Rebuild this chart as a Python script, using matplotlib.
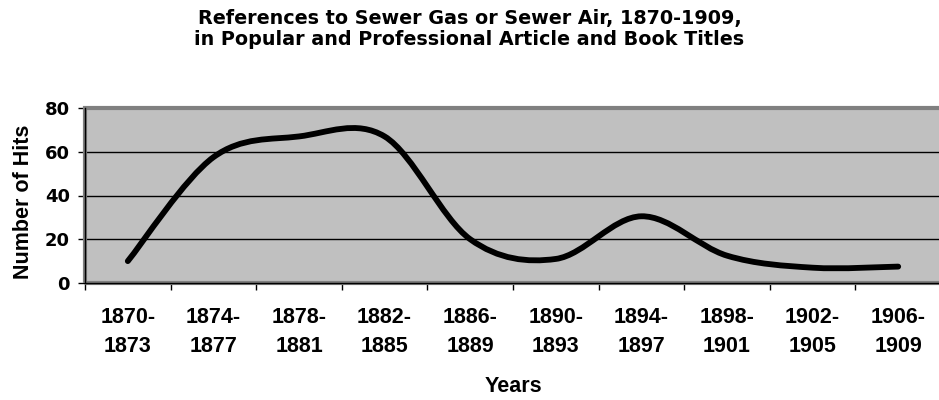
#!/usr/bin/env python
# -*- coding: utf-8 -*-

import numpy as np
import matplotlib
matplotlib.use('Agg')
import matplotlib.pyplot as plt
from matplotlib.path import Path
from matplotlib.patches import PathPatch, Rectangle

# data
periods = ['1870-\n1873', '1874-\n1877', '1878-\n1881', '1882-\n1885', '1886-\n1889',
           '1890-\n1893', '1894-\n1897', '1898-\n1901', '1902-\n1905', '1906-\n1909']
hits = [10, 57.5, 67, 67, 20, 11, 30.5, 12.5, 7, 7.5]
yticks = [0, 20, 40, 60, 80]

title = ('References to Sewer Gas or Sewer Air, 1870-1909,\n'
         'in Popular and Professional Article and Book Titles')


def smooth_path(xs, ys):
    '''Excel-like smoothed line: cubic Bezier through every point.'''
    pts = np.column_stack([xs, ys]).astype(float)
    n = len(pts)
    verts = [pts[0]]
    codes = [Path.MOVETO]
    for i in range(n - 1):
        p_prev = pts[max(i - 1, 0)]
        p0 = pts[i]
        p1 = pts[i + 1]
        p_next = pts[min(i + 2, n - 1)]
        c1 = p0 + (p1 - p_prev) / 6.0
        c2 = p1 - (p_next - p0) / 6.0
        verts += [c1, c2, p1]
        codes += [Path.CURVE4] * 3
    return Path(verts, codes)


fig = plt.figure(figsize=(9.39, 4.0), dpi=100)
ax = fig.add_axes([85 / 939, 117 / 400, 856 / 939, 175 / 400])
ax.set_facecolor('#C0C0C0')

x = np.arange(len(periods)) + 0.5
ax.add_patch(PathPatch(smooth_path(x, hits), facecolor='none', edgecolor='black',
                       lw=4.2, capstyle='round', joinstyle='round', zorder=4))

ax.set_xlim(0, len(periods))
ax.set_ylim(0, 80)

# gridlines
for v in yticks[1:-1]:
    ax.axhline(v, color='black', lw=1.0, zorder=2)

# plot-area border
ax.add_patch(Rectangle((0, 0), 1, 1, transform=ax.transAxes, fill=False,
                       edgecolor='#808080', lw=3.0, zorder=3, clip_on=False))
for s in ['top', 'right']:
    ax.spines[s].set_visible(False)
for s in ['left', 'bottom']:
    ax.spines[s].set_color('black')
    ax.spines[s].set_linewidth(1.0)
    ax.spines[s].set_zorder(5)

ax.set_yticks(yticks)
ax.set_yticklabels([str(v) for v in yticks], fontfamily='DejaVu Sans',
                   fontweight='bold', fontsize=13)
ax.tick_params(axis='y', direction='out', length=5, width=1, pad=6)

ax.set_xticks(np.arange(len(periods) + 1))
ax.set_xticklabels([])
ax.set_xticks(x, minor=True)
ax.set_xticklabels(periods, minor=True, fontfamily='Liberation Sans',
                   fontweight='bold', fontsize=15.5, linespacing=1.5)
ax.tick_params(axis='x', which='major', direction='out', length=5, width=1)
ax.tick_params(axis='x', which='minor', length=0, pad=17)

ax.set_xlabel('Years', fontfamily='Liberation Sans', fontweight='bold',
              fontsize=15.5, labelpad=14)
ax.set_ylabel('Number of Hits', fontfamily='Liberation Sans', fontweight='bold',
              fontsize=15.5, va='center')
ax.yaxis.set_label_coords((24 - 85) / 856, (283 - 202) / 175)

fig.text(0.5, 1 - 29 / 400, title, ha='center', va='center',
         fontfamily='DejaVu Sans', fontweight='bold', fontsize=13.8,
         linespacing=1.12)

fig.savefig('out.png', dpi=100)
